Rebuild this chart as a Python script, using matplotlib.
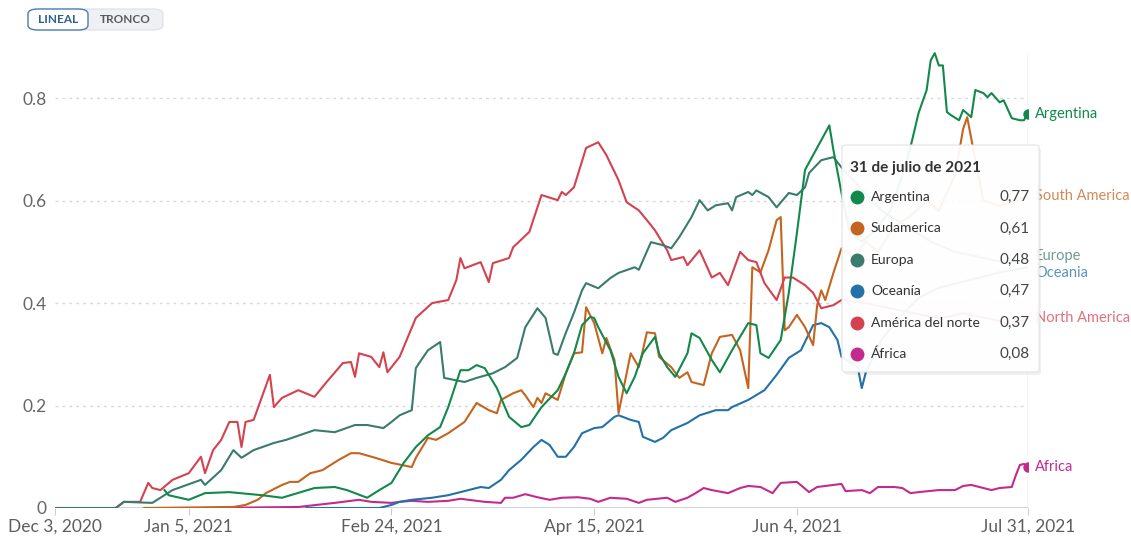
import matplotlib.pyplot as plt
from matplotlib.patches import FancyBboxPatch
import numpy as np

plt.rcParams['font.family'] = ['Lato', 'DejaVu Sans']

start = np.datetime64('2020-12-03')

# days after Dec 3, 2020 / values
na_days = [0, 15, 17, 21, 23, 24, 26, 29, 33, 36, 37, 39, 41, 43, 45, 46, 47, 49, 53, 54, 56, 60, 64, 67,
           71, 73, 74, 75, 78, 80, 81, 82, 85, 89, 93, 97, 99, 100, 101, 105, 107, 108, 112, 113, 117,
           120, 124, 125, 126, 128, 131, 134, 136, 139, 141, 144, 146, 148, 151, 152, 155, 156, 159, 162,
           164, 166, 169, 171, 173, 175, 178, 180, 182, 185, 187, 189, 192, 194, 200, 206, 212, 218, 224,
           230, 236, 240]
na_vals = [0, 0, 0.012, 0.012, 0.049, 0.039, 0.035, 0.055, 0.068, 0.10, 0.068, 0.113, 0.133, 0.168, 0.168,
           0.119, 0.168, 0.172, 0.26, 0.197, 0.215, 0.23, 0.217, 0.246, 0.283, 0.285, 0.256, 0.302, 0.295,
           0.275, 0.304, 0.265, 0.295, 0.371, 0.40, 0.406, 0.445, 0.488, 0.468, 0.48, 0.441, 0.478, 0.488,
           0.509, 0.539, 0.611, 0.601, 0.617, 0.611, 0.626, 0.703, 0.714, 0.689, 0.64, 0.597, 0.581, 0.562,
           0.542, 0.503, 0.484, 0.49, 0.474, 0.503, 0.45, 0.459, 0.435, 0.50, 0.484, 0.48, 0.439, 0.406,
           0.45, 0.45, 0.435, 0.42, 0.39, 0.396, 0.406, 0.40, 0.39, 0.38, 0.37, 0.38, 0.37, 0.36, 0.37]

eu_days = [0, 15, 17, 24, 29, 36, 37, 41, 44, 46, 49, 54, 57, 64, 69, 74, 77, 81, 83, 85, 88, 89, 90, 92,
           95, 96, 101, 104, 108, 111, 114, 116, 119, 121, 123, 124, 126, 128, 130, 131, 134, 137, 139,
           143, 144, 147, 150, 152, 154, 157, 159, 161, 163, 166, 167, 168, 171, 172, 173, 176, 178, 181,
           183, 185, 186, 189, 192, 194, 198, 204, 210, 216, 222, 228, 234, 240]
eu_vals = [0, 0, 0.012, 0.01, 0.035, 0.055, 0.045, 0.074, 0.113, 0.098, 0.113, 0.127, 0.133, 0.152, 0.148,
           0.162, 0.162, 0.156, 0.168, 0.181, 0.191, 0.273, 0.285, 0.308, 0.324, 0.254, 0.246, 0.254, 0.263,
           0.275, 0.293, 0.353, 0.39, 0.371, 0.302, 0.299, 0.342, 0.381, 0.425, 0.439, 0.429, 0.449, 0.459,
           0.47, 0.465, 0.519, 0.513, 0.507, 0.529, 0.568, 0.601, 0.581, 0.591, 0.595, 0.581, 0.607, 0.617,
           0.611, 0.62, 0.607, 0.587, 0.615, 0.611, 0.626, 0.654, 0.679, 0.685, 0.665, 0.63, 0.58, 0.55,
           0.52, 0.50, 0.49, 0.48, 0.48]

ar_days = [27, 28, 33, 37, 43, 51, 56, 64, 69, 72, 77, 80, 83, 86, 89, 92, 95, 97, 100, 102, 104, 106, 109,
           112, 115, 117, 120, 124, 126, 128, 130, 132, 133, 134, 137, 139, 141, 143, 145, 148, 149, 151,
           153, 156, 157, 159, 162, 164, 167, 171, 173, 174, 176, 179, 181, 183, 185, 189, 191, 192, 194,
           196, 199, 202, 206, 209, 211, 213, 215, 216, 217, 218, 219, 220, 221, 223, 224, 226, 227, 229,
           230, 231, 233, 234, 236, 238, 239, 240]
ar_vals = [0.035, 0.025, 0.016, 0.029, 0.031, 0.025, 0.02, 0.039, 0.041, 0.035, 0.02, 0.035, 0.049, 0.088,
           0.119, 0.142, 0.158, 0.197, 0.269, 0.269, 0.279, 0.273, 0.234, 0.178, 0.158, 0.162, 0.197, 0.23,
           0.263, 0.302, 0.357, 0.373, 0.371, 0.353, 0.308, 0.256, 0.224, 0.256, 0.302, 0.334, 0.302, 0.275,
           0.256, 0.302, 0.341, 0.332, 0.289, 0.265, 0.308, 0.361, 0.357, 0.302, 0.293, 0.328, 0.42, 0.537,
           0.66, 0.718, 0.747, 0.699, 0.615, 0.54, 0.52, 0.54, 0.58, 0.65, 0.704, 0.771, 0.816, 0.874, 0.888,
           0.864, 0.864, 0.773, 0.767, 0.757, 0.777, 0.763, 0.816, 0.81, 0.802, 0.81, 0.792, 0.796, 0.761,
           0.757, 0.757, 0.77]

sa_days = [22, 44, 47, 50, 52, 56, 58, 60, 63, 66, 70, 73, 75, 79, 83, 88, 89, 92, 94, 97, 101, 104, 107,
           109, 110, 113, 115, 116, 118, 119, 120, 121, 124, 126, 128, 130, 131, 133, 135, 136, 138, 139,
           142, 144, 145, 146, 148, 149, 152, 154, 156, 157, 160, 162, 164, 167, 169, 171, 172, 174, 176,
           178, 179, 180, 181, 183, 185, 187, 188, 189, 190, 192, 194, 197, 200, 203, 207, 211, 215, 218,
           222, 224, 225, 227, 229, 233, 237, 240]
sa_vals = [0, 0.002, 0.006, 0.016, 0.029, 0.045, 0.051, 0.051, 0.068, 0.074, 0.094, 0.107, 0.107, 0.098,
           0.088, 0.08, 0.098, 0.137, 0.133, 0.146, 0.168, 0.205, 0.191, 0.185, 0.211, 0.224, 0.23, 0.22,
           0.197, 0.215, 0.205, 0.224, 0.211, 0.263, 0.302, 0.304, 0.392, 0.361, 0.302, 0.332, 0.289, 0.185,
           0.302, 0.275, 0.308, 0.343, 0.341, 0.295, 0.275, 0.254, 0.265, 0.246, 0.24, 0.302, 0.334, 0.338,
           0.308, 0.234, 0.47, 0.46, 0.503, 0.562, 0.568, 0.347, 0.353, 0.377, 0.353, 0.318, 0.396, 0.425,
           0.406, 0.459, 0.507, 0.49, 0.52, 0.50, 0.55, 0.57, 0.60, 0.58, 0.65, 0.74, 0.763, 0.68, 0.60,
           0.59, 0.60, 0.61]

oc_days = [62, 80, 83, 85, 88, 93, 97, 100, 102, 105, 107, 110, 112, 115, 118, 120, 122, 124, 126, 128,
           130, 133, 135, 138, 139, 142, 144, 145, 148, 150, 152, 156, 159, 163, 166, 167, 171, 175, 178,
           181, 184, 187, 189, 191, 193, 194, 198, 199, 200, 204, 208, 213, 218, 223, 228, 233, 240]
oc_vals = [0, 0, 0.006, 0.012, 0.016, 0.02, 0.025, 0.031, 0.035, 0.041, 0.039, 0.055, 0.074, 0.094, 0.119,
           0.133, 0.123, 0.10, 0.10, 0.119, 0.146, 0.156, 0.158, 0.178, 0.181, 0.172, 0.168, 0.139, 0.129,
           0.137, 0.152, 0.166, 0.181, 0.191, 0.191, 0.197, 0.211, 0.23, 0.26, 0.293, 0.308, 0.357, 0.361,
           0.353, 0.328, 0.295, 0.275, 0.234, 0.265, 0.33, 0.37, 0.41, 0.43, 0.44, 0.45, 0.46, 0.47]

af_days = [37, 60, 69, 75, 78, 83, 85, 88, 92, 97, 100, 106, 110, 111, 113, 116, 119, 122, 125, 129, 132,
           134, 137, 141, 144, 146, 151, 153, 156, 158, 160, 162, 166, 169, 171, 174, 177, 179, 183, 186,
           188, 194, 195, 199, 201, 203, 207, 209, 211, 213, 218, 222, 224, 226, 228, 231, 233, 236, 237,
           238, 239, 240]
af_vals = [0, 0.002, 0.01, 0.016, 0.012, 0.01, 0.012, 0.014, 0.012, 0.014, 0.018, 0.012, 0.01, 0.02, 0.02,
           0.027, 0.021, 0.016, 0.02, 0.021, 0.018, 0.012, 0.02, 0.018, 0.01, 0.016, 0.02, 0.012, 0.02, 0.029,
           0.039, 0.035, 0.029, 0.039, 0.043, 0.041, 0.029, 0.049, 0.051, 0.031, 0.041, 0.047, 0.033, 0.035,
           0.029, 0.041, 0.041, 0.039, 0.029, 0.031, 0.035, 0.035, 0.043, 0.045, 0.041, 0.035, 0.039, 0.041,
           0.064, 0.084, 0.086, 0.08]

# tooltip rows (Spanish) and end labels (English)
tip_names = ['Argentina', 'Sudamerica', 'Europa', 'Oceanía', 'América del norte', 'África']
tip_vals = [0.77, 0.61, 0.48, 0.47, 0.37, 0.08]
end_labels = ['Argentina', 'South America', 'Europe', 'Oceania', 'North America', 'Africa']
label_shift = [0, 0, 0.012, -0.012, 0, 0]

tick_days = [0, 33, 83, 133, 183, 240]
tick_labels = ['Dec 3, 2020', 'Jan 5, 2021', 'Feb 24, 2021', 'Apr 15, 2021', 'Jun 4, 2021', 'Jul 31, 2021']

colors = ['#12894a', '#c4641f', '#3a7b6e', '#2371a8', '#d4424f', '#c42a8c']
all_days = [ar_days, sa_days, eu_days, oc_days, na_days, af_days]
all_vals = [ar_vals, sa_vals, eu_vals, oc_vals, na_vals, af_vals]


def d(days):
    return start + np.array(days, dtype='timedelta64[D]')


W, H = 1131, 540
fig = plt.figure(figsize=(W / 100, H / 100), dpi=100)
ax = fig.add_axes([55 / W, 32 / H, 973 / W, 461 / H])

# draw order: back to front roughly as in the picture
for i in [5, 3, 1, 4, 2, 0]:
    ax.plot(d(all_days[i]), all_vals[i], color=colors[i], lw=1.5, solid_joinstyle='round', zorder=3)

end = d([240])[0]
ax.plot([end, end], [0, 0.89], color='#d4d4d4', lw=1, zorder=1)
for i in [0, 5]:
    ax.plot(end, all_vals[i][-1], 'o', color=colors[i], ms=6.5, zorder=4)
for i, lab in enumerate(end_labels):
    ax.annotate(lab, (end, tip_vals[i] + label_shift[i]), xytext=(5, 0), textcoords='offset points',
                va='center', ha='left', fontsize=10.5, color=colors[i], annotation_clip=False,
                alpha=1 if i in (0, 5) else 0.75)

ax.set_xlim(d([0])[0], end)
ax.set_ylim(0, 0.9)
ax.set_yticks([0, 0.2, 0.4, 0.6, 0.8])
ax.set_yticklabels(['0', '0.2', '0.4', '0.6', '0.8'])
ax.set_xticks(d(tick_days))
ax.set_xticklabels(tick_labels)
for y in [0.2, 0.4, 0.6, 0.8]:
    ax.axhline(y, color='#d8d8d8', lw=1, ls=(0, (2, 3)), zorder=0)
ax.axhline(0, color='#c6cad2', lw=1.2, zorder=1)
for s in ax.spines.values():
    s.set_visible(False)
ax.tick_params(axis='y', length=0, pad=6, labelsize=12.5, labelcolor='#666666')
ax.tick_params(axis='x', length=5, color='#cccccc', pad=3, labelsize=12.5, labelcolor='#5e5e5e')


def fx(px):
    return px / W


def fy(py):
    return 1 - py / H


# hover tooltip
tx0, ty0, tx1, ty1 = 842, 145, 1039, 372
fig.add_artist(FancyBboxPatch((fx(tx0 + 2), fy(ty1 + 3)), fx(tx1 - tx0), (ty1 - ty0) / H,
                              boxstyle='round,pad=0,rounding_size=0.004', fc='#000000', alpha=0.06,
                              ec='none', transform=fig.transFigure, zorder=5))
fig.add_artist(FancyBboxPatch((fx(tx0), fy(ty1)), fx(tx1 - tx0), (ty1 - ty0) / H,
                              boxstyle='round,pad=0,rounding_size=0.004', fc='white', alpha=0.94,
                              ec='#e2e2e2', lw=0.8, transform=fig.transFigure, zorder=6))
fig.text(fx(850), fy(168), '31 de julio de 2021', fontsize=11, fontweight='bold', color='#333333',
         va='center', ha='left', zorder=7)
for i, name in enumerate(tip_names):
    ry = fy(197 + i * 31.4)
    fig.add_artist(plt.Line2D([fx(857)], [ry], marker='o', ms=9, color=colors[i], lw=0,
                              transform=fig.transFigure, zorder=7))
    fig.text(fx(871), ry, name, fontsize=10, color='#333333', va='center', ha='left', zorder=7)
    fig.text(fx(1030), ry, f'{tip_vals[i]:.2f}'.replace('.', ','), fontsize=11, color='#444444',
             va='center', ha='right', zorder=7)

# LINEAL / TRONCO toggle
fig.add_artist(FancyBboxPatch((fx(28), fy(30)), fx(135), 21 / H, boxstyle='round,pad=0,rounding_size=0.009',
                              fc='#eef0f3', ec='#dcdfe4', lw=0.8, transform=fig.transFigure, zorder=5))
fig.add_artist(FancyBboxPatch((fx(28), fy(30)), fx(60), 21 / H, boxstyle='round,pad=0,rounding_size=0.009',
                              fc='white', ec='#4a7fb5', lw=1, transform=fig.transFigure, zorder=6))
fig.text(fx(58), fy(19.5), 'LINEAL', fontsize=8.5, fontweight='bold', color='#2f5f8f', ha='center',
         va='center', zorder=7)
fig.text(fx(125), fy(19.5), 'TRONCO', fontsize=8.5, fontweight='bold', color='#5a5a5a', ha='center',
         va='center', zorder=7)

fig.savefig('out.png', dpi=100, facecolor='white')
